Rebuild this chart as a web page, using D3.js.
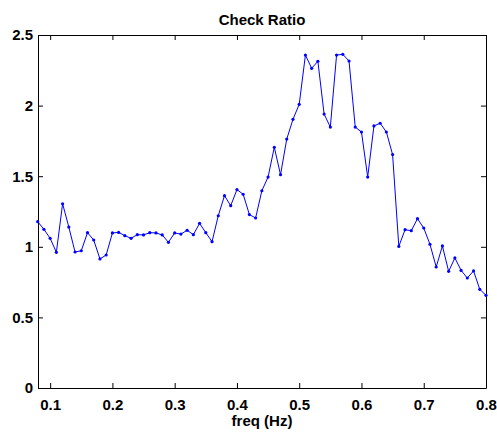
<!DOCTYPE html>
<html>
<head>
<meta charset="utf-8">
<script src="https://cdn.jsdelivr.net/npm/d3@7"></script>
<style>
  body { margin: 0; background: #fff; }
  svg text { font-family: "Liberation Sans", Arial, sans-serif; font-weight: bold; }
</style>
</head>
<body>
<svg class="chart" width="497" height="432"></svg>
<script>
const freq = [
    0.08, 0.09, 0.10, 0.11, 0.12, 0.13, 0.14, 0.15, 0.16, 0.17,
    0.18, 0.19, 0.20, 0.21, 0.22, 0.23, 0.24, 0.25, 0.26, 0.27,
    0.28, 0.29, 0.30, 0.31, 0.32, 0.33, 0.34, 0.35, 0.36, 0.37,
    0.38, 0.39, 0.40, 0.41, 0.42, 0.43, 0.44, 0.45, 0.46, 0.47,
    0.48, 0.49, 0.50, 0.51, 0.52, 0.53, 0.54, 0.55, 0.56, 0.57,
    0.58, 0.59, 0.60, 0.61, 0.62, 0.63, 0.64, 0.65, 0.66, 0.67,
    0.68, 0.69, 0.70, 0.71, 0.72, 0.73, 0.74, 0.75, 0.76, 0.77,
    0.78, 0.79, 0.80
];
const ratio = [
    1.178, 1.124, 1.060, 0.961, 1.305, 1.140, 0.963, 0.972, 1.100, 1.048,
    0.914, 0.942, 1.098, 1.102, 1.079, 1.060, 1.086, 1.084, 1.100, 1.098,
    1.084, 1.032, 1.098, 1.090, 1.117, 1.086, 1.166, 1.100, 1.036, 1.220,
    1.362, 1.291, 1.405, 1.372, 1.228, 1.204, 1.397, 1.494, 1.705, 1.511,
    1.763, 1.903, 2.009, 2.358, 2.264, 2.314, 1.940, 1.848, 2.358, 2.363,
    2.316, 1.848, 1.813, 1.494, 1.856, 1.875, 1.813, 1.653, 1.003, 1.121,
    1.114, 1.199, 1.133, 1.018, 0.857, 1.006, 0.826, 0.921, 0.833, 0.779,
    0.829, 0.699, 0.656
];
const xTicks = [0.1, 0.2, 0.3, 0.4, 0.5, 0.6, 0.7, 0.8];
const yTicks = [0, 0.5, 1, 1.5, 2, 2.5];

const width = 497, height = 432;
const margin = { left: 38, right: 11, top: 35, bottom: 44 };
const innerW = width - margin.left - margin.right;
const innerH = height - margin.top - margin.bottom;

const svg = d3.select('.chart');
const g = svg.append('g').attr('transform', `translate(${margin.left},${margin.top})`);

const xScale = d3.scaleLinear().domain([0.0805, 0.8]).range([0, innerW]);
const yScale = d3.scaleLinear().domain([0, 2.5]).range([innerH, 0]);

const styleAxis = (sel) => {
    sel.select('.domain').attr('stroke', '#000').attr('stroke-width', 1);
    sel.selectAll('.tick line').attr('stroke', '#000');
    sel.selectAll('.tick text').attr('fill', '#000').style('font-size', '15px');
};

// bottom + left axes with labels, ticks pointing inward
g.append('g')
    .attr('transform', `translate(0,${innerH})`)
    .call(d3.axisBottom(xScale).tickValues(xTicks).tickSize(-5).tickPadding(11).tickSizeOuter(0)
        .tickFormat(d3.format('.1f')))
    .call(styleAxis);

g.append('g')
    .call(d3.axisLeft(yScale).tickValues(yTicks).tickSize(-5).tickPadding(5).tickSizeOuter(0)
        .tickFormat(d => d))
    .call(styleAxis);

// top + right axes, ticks only
g.append('g')
    .call(d3.axisTop(xScale).tickValues(xTicks).tickSize(-5).tickSizeOuter(0).tickFormat(''))
    .call(styleAxis);

g.append('g')
    .attr('transform', `translate(${innerW},0)`)
    .call(d3.axisRight(yScale).tickValues(yTicks).tickSize(-5).tickSizeOuter(0).tickFormat(''))
    .call(styleAxis);

const data = freq.map((f, i) => ({ x: f, y: ratio[i] }));

const line = d3.line()
    .x(d => xScale(d.x))
    .y(d => yScale(d.y));

g.append('path')
    .datum(data)
    .attr('d', line)
    .style('fill', 'none')
    .style('stroke', '#0000ff')
    .style('stroke-width', 1);

g.selectAll('.dot')
    .data(data)
    .enter().append('circle')
    .classed('dot', true)
    .attr('r', 1.6)
    .attr('cx', d => xScale(d.x))
    .attr('cy', d => yScale(d.y))
    .style('fill', '#0000ff');

svg.append('text')
    .attr('x', margin.left + innerW / 2)
    .attr('y', 24.5)
    .attr('text-anchor', 'middle')
    .style('font-size', '15px')
    .text('Check Ratio');

svg.append('text')
    .attr('x', margin.left + innerW / 2)
    .attr('y', 426)
    .attr('text-anchor', 'middle')
    .style('font-size', '15px')
    .text('freq (Hz)');
</script>
</body>
</html>
